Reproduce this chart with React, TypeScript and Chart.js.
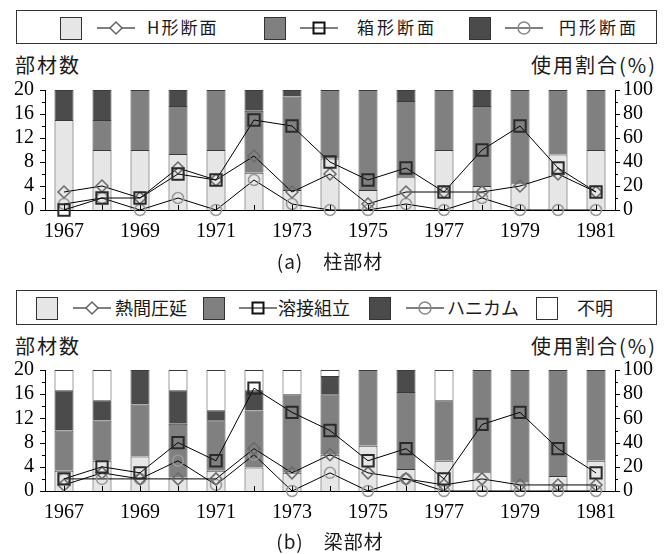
import React, { useEffect, useRef } from 'react';
import { Chart, registerables } from 'chart.js';
Chart.register(...registerables);

const years = ['1967', '1968', '1969', '1970', '1971', '1972', '1973', '1974', '1975', '1976', '1977', '1978', '1979', '1980', '1981'];

// (a) 柱部材 — bar shares (%) and member counts
const colHPct = [75, 50, 50, 46.7, 50, 31.0, 16.7, 42.9, 16.7, 27.3, 50, 20, 22.2, 46.2, 50];
const colBoxPct = [0, 25, 50, 40, 50, 51.7, 77.8, 57.1, 83.3, 63.6, 50, 66.7, 77.8, 53.8, 50];
const colPipePct = [25, 25, 0, 13.3, 0, 17.2, 5.5, 0, 0, 9.1, 0, 13.3, 0, 0, 0];
const colHCount = [3, 4, 2, 7, 5, 9, 3, 6, 1, 3, 3, 3, 4, 6, 3];
const colBoxCount = [0, 2, 2, 6, 5, 15, 14, 8, 5, 7, 3, 10, 14, 7, 3];
const colPipeCount = [1, 2, 0, 2, 0, 5, 1, 0, 0, 1, 0, 2, 0, 0, 0];

// (b) 梁部材
const beamRolledPct = [16.7, 25, 28.6, 11.1, 16.7, 19.4, 15, 30, 37.5, 18.2, 25, 15.4, 7.1, 12.5, 25];
const beamWeldedPct = [33.3, 33.3, 42.8, 44.4, 41.7, 47.2, 65, 50, 62.5, 63.6, 50, 84.6, 92.9, 87.5, 75];
const beamHoneyPct = [33.3, 16.7, 28.6, 27.8, 8.3, 16.7, 0, 15, 0, 18.2, 0, 0, 0, 0, 0];
const beamUnknownPct = [16.7, 25, 0, 16.7, 33.3, 16.7, 20, 5, 0, 0, 25, 0, 0, 0, 0];
const beamRolledCount = [1, 3, 2, 2, 2, 7, 3, 6, 3, 2, 1, 2, 1, 1, 1];
const beamWeldedCount = [2, 4, 3, 8, 5, 17, 13, 10, 5, 7, 2, 11, 13, 7, 3];
const beamHoneyCount = [2, 2, 2, 5, 1, 6, 0, 3, 0, 2, 0, 0, 0, 0, 0];

const LIGHT = '#e6e6e6';
const MID = '#808080';
const DARK = '#4b4b4b';
const WHITE = '#ffffff';
const BAR_BORDER = '#3a3a3a';

const SERIF = "'Liberation Serif', 'DejaVu Serif', serif";
const JP = '"Noto Sans CJK JP", "Noto Sans", sans-serif';

const tickPlugin = {
  id: 'customTicks',
  afterDraw(chart: any) {
    const ctx = chart.ctx;
    const { x, y, y2 } = chart.scales;
    const a = chart.chartArea;
    ctx.save();
    ctx.strokeStyle = '#000';
    ctx.lineWidth = 1;
    for (let v = 0; v <= 20; v += 2) {
      const py = Math.round(y.getPixelForValue(v)) + 0.5;
      const len = v % 4 === 0 ? 5 : 3;
      ctx.beginPath();
      ctx.moveTo(a.left - len, py);
      ctx.lineTo(a.left, py);
      ctx.stroke();
    }
    for (let v = 0; v <= 100; v += 10) {
      const py = Math.round(y2.getPixelForValue(v)) + 0.5;
      const len = v % 20 === 0 ? 5 : 3;
      ctx.beginPath();
      ctx.moveTo(a.right, py);
      ctx.lineTo(a.right + len, py);
      ctx.stroke();
    }
    for (let i = 0; i < years.length; i++) {
      const px = Math.round(x.getPixelForValue(i)) + 0.5;
      ctx.beginPath();
      ctx.moveTo(px, a.bottom);
      ctx.lineTo(px, a.bottom - 5);
      ctx.stroke();
    }
    ctx.restore();
  },
};

function barSet(label: string, data: number[], color: string) {
  return {
    type: 'bar',
    label,
    data,
    backgroundColor: color,
    borderColor: BAR_BORDER,
    borderWidth: 1,
    barPercentage: 0.5,
    categoryPercentage: 1.0,
    yAxisID: 'y2',
    order: 10,
  };
}

function lineSet(label: string, data: number[], kind: string, order: number) {
  const base: any = {
    type: 'line',
    label,
    data,
    borderColor: '#000',
    borderWidth: 1,
    backgroundColor: 'transparent',
    pointBackgroundColor: 'transparent',
    yAxisID: 'y',
    clip: false,
    order,
    tension: 0,
  };
  if (kind === 'diamond') {
    base.pointStyle = 'rectRot';
    base.pointRadius = 6;
    base.pointBorderColor = '#6a6a6a';
    base.pointBorderWidth = 1.5;
  } else if (kind === 'square') {
    base.pointStyle = 'rect';
    base.pointRadius = 8;
    base.pointBorderColor = '#2a2a2a';
    base.pointBorderWidth = 2;
  } else {
    base.pointStyle = 'circle';
    base.pointRadius = 5.5;
    base.pointBorderColor = '#999';
    base.pointBorderWidth = 1.5;
  }
  return base;
}

function makeOptions(xHeight: number) {
  const tickFont = { family: SERIF, size: 20 };
  return {
    responsive: false,
    animation: false,
    layout: { padding: { top: 15, left: 0, right: 0, bottom: 0 } },
    plugins: { legend: { display: false }, tooltip: { enabled: false } },
    scales: {
      x: {
        type: 'category',
        stacked: true,
        grid: { display: false, drawTicks: false },
        border: { display: true, color: '#000', width: 1 },
        ticks: {
          autoSkip: false,
          maxRotation: 0,
          padding: 10,
          color: '#000',
          font: tickFont,
          callback: (_v: any, i: number) => (i % 2 === 0 ? years[i] : ''),
        },
        afterFit: (s: any) => {
          s.height = xHeight;
          s.paddingLeft = 0;
          s.paddingRight = 0;
        },
      },
      y: {
        position: 'left',
        min: 0,
        max: 20,
        grid: { display: false, drawTicks: false },
        border: { display: true, color: '#000', width: 1 },
        ticks: { stepSize: 4, autoSkip: false, padding: 11, color: '#000', font: tickFont },
        afterFit: (s: any) => {
          s.width = 45;
          s.paddingTop = 0;
          s.paddingBottom = 0;
        },
      },
      y2: {
        position: 'right',
        stacked: true,
        min: 0,
        max: 100,
        grid: { display: false, drawTicks: false },
        border: { display: true, color: '#000', width: 1 },
        ticks: { stepSize: 20, autoSkip: false, padding: 8, color: '#000', font: tickFont },
        afterFit: (s: any) => {
          s.width = 49;
          s.paddingTop = 0;
          s.paddingBottom = 0;
        },
      },
    },
  };
}

function ChartCanvas({ top, height, xHeight, datasets }: any) {
  const ref = useRef<HTMLCanvasElement>(null);
  useEffect(() => {
    const chart = new Chart(ref.current as HTMLCanvasElement, {
      type: 'bar',
      data: { labels: years, datasets },
      options: makeOptions(xHeight) as any,
      plugins: [tickPlugin],
    } as any);
    return () => chart.destroy();
  }, []);
  return (
    <canvas
      ref={ref}
      width={664}
      height={height}
      style={{ position: 'absolute', left: 0, top, width: 664, height }}
    />
  );
}

function Sym({ kind, left, top }: any) {
  return (
    <svg width={38} height={16} style={{ position: 'absolute', left, top }}>
      <line x1={0} y1={8} x2={38} y2={8} stroke="#000" strokeWidth={1} />
      {kind === 'diamond' && (
        <polygon points="19,2 25,8 19,14 13,8" fill="#fff" stroke="#666" strokeWidth={1.5} />
      )}
      {kind === 'square' && (
        <rect x={13.5} y={2.5} width={11} height={11} fill="none" stroke="#111" strokeWidth={2} />
      )}
      {kind === 'circle' && <circle cx={19} cy={8} r={6} fill="none" stroke="#888" strokeWidth={1.5} />}
    </svg>
  );
}

function Swatch({ color, left, top }: any) {
  return (
    <div
      style={{
        position: 'absolute',
        left,
        top,
        width: 20,
        height: 21,
        background: color,
        border: '1px solid #333',
      }}
    />
  );
}

function Txt({ children, left, top, size, spacing, right, center }: any) {
  const style: any = {
    position: 'absolute',
    top,
    fontFamily: JP,
    fontSize: size,
    letterSpacing: spacing || 0,
    lineHeight: `${size + 4}px`,
    color: '#1a1a1a',
    whiteSpace: 'nowrap',
  };
  if (right !== undefined) style.right = right;
  else if (center !== undefined) {
    style.left = center - 150;
    style.width = 300;
    style.textAlign = 'center';
  } else style.left = left;
  return <div style={style}>{children}</div>;
}

export default function App() {
  const dsA = [
    lineSet('箱形断面', colBoxCount, 'square', 0),
    lineSet('H形断面', colHCount, 'diamond', 1),
    lineSet('円形断面', colPipeCount, 'circle', 2),
    barSet('H形断面', colHPct, LIGHT),
    barSet('箱形断面', colBoxPct, MID),
    barSet('円形断面', colPipePct, DARK),
  ];
  const dsB = [
    lineSet('溶接組立', beamWeldedCount, 'square', 0),
    lineSet('熱間圧延', beamRolledCount, 'diamond', 1),
    lineSet('ハニカム', beamHoneyCount, 'circle', 2),
    barSet('熱間圧延', beamRolledPct, LIGHT),
    barSet('溶接組立', beamWeldedPct, MID),
    barSet('ハニカム', beamHoneyPct, DARK),
    barSet('不明', beamUnknownPct, WHITE),
  ];

  return (
    <div style={{ position: 'absolute', left: 0, top: 0, width: 664, height: 554, background: '#fff', overflow: 'hidden' }}>
      {/* Legend (a) */}
      <div style={{ position: 'absolute', left: 16, top: 10, width: 639, height: 32, border: '1px solid #333' }} />
      <Swatch color={LIGHT} left={60} top={17} />
      <Sym kind="diamond" left={97} top={20} />
      <Txt left={147} top={16} size={17} spacing={2}>H形断面</Txt>
      <Swatch color={MID} left={264} top={17} />
      <Sym kind="square" left={300} top={20} />
      <Txt left={357} top={16} size={17} spacing={3}>箱形断面</Txt>
      <Swatch color={DARK} left={469} top={17} />
      <Sym kind="circle" left={505} top={20} />
      <Txt left={559} top={16} size={17} spacing={3}>円形断面</Txt>

      <Txt left={15} top={53} size={20} spacing={2}>部材数</Txt>
      <Txt right={7} top={53} size={20} spacing={2}>使用割合(%)</Txt>

      <ChartCanvas top={75} height={185} xHeight={50} datasets={dsA} />

      <Txt center={330} top={249} size={19} spacing={1}>(a)　柱部材</Txt>

      {/* Legend (b) */}
      <div style={{ position: 'absolute', left: 16, top: 290, width: 639, height: 33, border: '1px solid #333' }} />
      <Swatch color={LIGHT} left={36} top={297} />
      <Sym kind="diamond" left={73} top={300} />
      <Txt left={115} top={296} size={18}>熱間圧延</Txt>
      <Swatch color={MID} left={203} top={297} />
      <Sym kind="square" left={239} top={300} />
      <Txt left={278} top={296} size={18}>溶接組立</Txt>
      <Swatch color={DARK} left={369} top={297} />
      <Sym kind="circle" left={406} top={300} />
      <Txt left={447} top={296} size={18}>ハニカム</Txt>
      <Swatch color={WHITE} left={536} top={297} />
      <Txt left={577} top={296} size={18}>不明</Txt>

      <Txt left={15} top={334} size={20} spacing={2}>部材数</Txt>
      <Txt right={7} top={334} size={20} spacing={2}>使用割合(%)</Txt>

      <ChartCanvas top={355} height={185} xHeight={49} datasets={dsB} />

      <Txt center={330} top={529} size={19} spacing={1}>(b)　梁部材</Txt>
    </div>
  );
}
